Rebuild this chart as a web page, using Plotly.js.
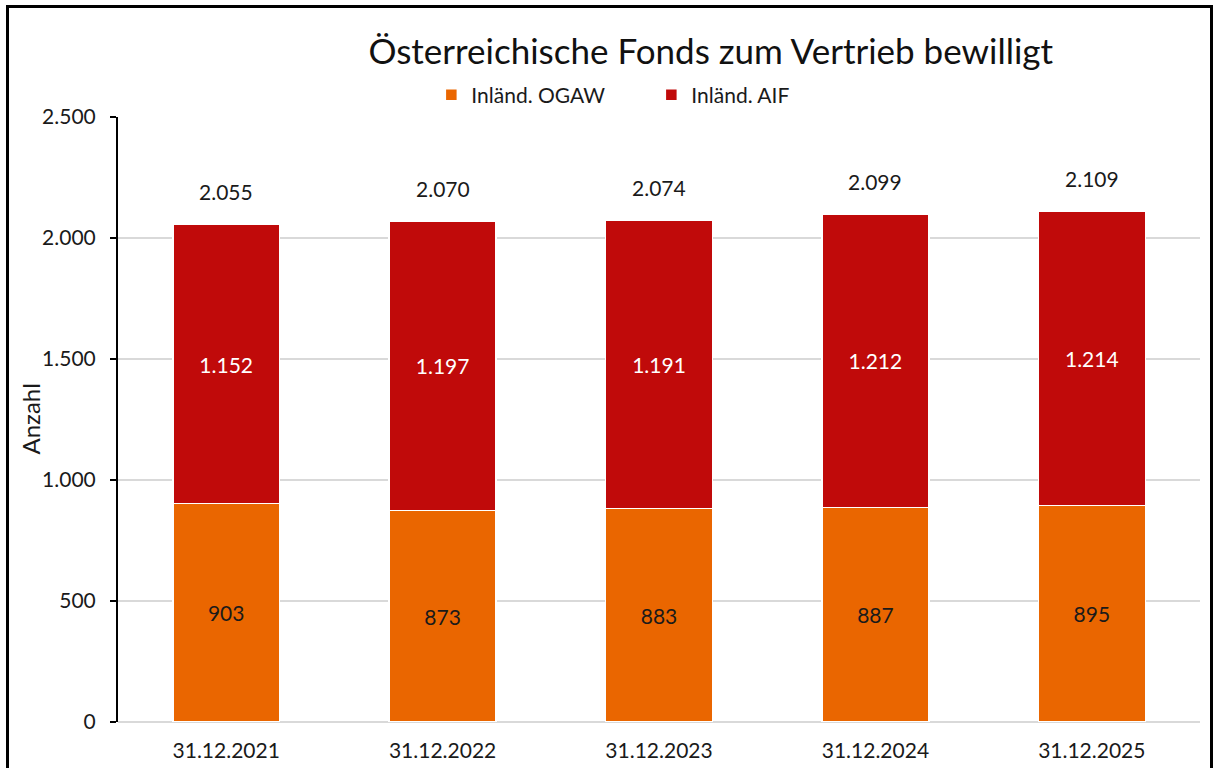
<!DOCTYPE html>
<html>
<head>
<meta charset="utf-8">
<script src="https://cdn.plot.ly/plotly-3.0.1.min.js"></script>
<style>
html,body{margin:0;padding:0;background:#fff;width:1215px;height:768px;overflow:hidden;}
#chart{position:absolute;left:0;top:0;width:1215px;height:768px;}
#frame{position:absolute;left:6px;top:5px;width:1207px;height:800px;border:3px solid #000;pointer-events:none;box-sizing:border-box;}
</style>
</head>
<body>
<div id="chart"></div>
<div id="frame"></div>
<script>
const categories = ["31.12.2021","31.12.2022","31.12.2023","31.12.2024","31.12.2025"];
const ogaw = [903, 873, 883, 887, 895];
const aif = [1152, 1197, 1191, 1212, 1214];
const totals = [2055, 2070, 2074, 2099, 2109];
const yTickVals = [0, 500, 1000, 1500, 2000, 2500];
const yTickText = ["0", "500", "1.000", "1.500", "2.000", "2.500"];
const yAxisTitle = "Anzahl";

const fmt = v => v >= 1000 ? Math.floor(v/1000) + "." + String(v%1000).padStart(3,"0") : String(v);
const FONT = "Lato, 'Open Sans', sans-serif";

const traces = [
  {
    type: "bar", name: "Inländ. OGAW", x: categories, y: ogaw,
    marker: {color: "#EA6600", line: {color: "#ffffff", width: 1.5}},
    text: ogaw.map(fmt), textposition: "inside", insidetextanchor: "middle",
    textfont: {family: FONT, size: 21, color: "#1a1a1a"}, hoverinfo: "y"
  },
  {
    type: "bar", name: "Inländ. AIF", x: categories, y: aif,
    marker: {color: "#C00A0A", line: {color: "#ffffff", width: 1.5}},
    text: aif.map(fmt), textposition: "inside", insidetextanchor: "middle",
    textfont: {family: FONT, size: 21, color: "#ffffff"}, hoverinfo: "y"
  }
];

const annotations = categories.map((c, i) => ({
  x: c, y: totals[i], xref: "x", yref: "y", text: fmt(totals[i]),
  showarrow: false, yshift: 33, yanchor: "middle",
  font: {family: FONT, size: 21, color: "#1a1a1a"}
}));
annotations.push({
  text: yAxisTitle, xref: "paper", yref: "paper", x: -0.0813, y: 0.5,
  xanchor: "center", yanchor: "middle", textangle: -90, showarrow: false,
  font: {family: FONT, size: 24, color: "#1a1a1a"}
});

const layout = {
  width: 1215, height: 768,
  margin: {l: 118, r: 15, t: 117, b: 46},
  paper_bgcolor: "#ffffff", plot_bgcolor: "#ffffff",
  barmode: "stack", bargap: 0.506,
  font: {family: FONT, color: "#1a1a1a"},
  title: {text: "Österreichische Fonds zum Vertrieb bewilligt", x: 0.585, xanchor: "center", xref: "container",
          y: 1 - 52/768, yref: "container", yanchor: "middle",
          font: {family: FONT, size: 35, color: "#111111"}},
  showlegend: true,
  legend: {orientation: "h", x: 0.2896, xanchor: "left", y: 1.036, yanchor: "middle",
           font: {family: FONT, size: 21, color: "#1a1a1a"}, traceorder: "normal",
           itemwidth: 30, bgcolor: "rgba(0,0,0,0)", entrywidth: 175},
  xaxis: {type: "category", showgrid: false, showline: false, zeroline: false,
          ticks: "", tickfont: {family: FONT, size: 21, color: "#1a1a1a"}, ticklabelstandoff: 14},
  yaxis: {range: [0, 2500], tickvals: yTickVals, ticktext: yTickText,
          showgrid: true, gridcolor: "#d9d9d9", gridwidth: 2,
          showline: true, linecolor: "#000000", linewidth: 2,
          ticks: "outside", ticklen: 6, tickwidth: 2, tickcolor: "#000000",
          zeroline: true, zerolinecolor: "#d9d9d9", zerolinewidth: 2,
          ticklabelstandoff: 10,
          tickfont: {family: FONT, size: 21, color: "#1a1a1a"}},
  annotations: annotations
};

Plotly.newPlot("chart", traces, layout, {displayModeBar: false, staticPlot: true});
</script>
</body>
</html>
